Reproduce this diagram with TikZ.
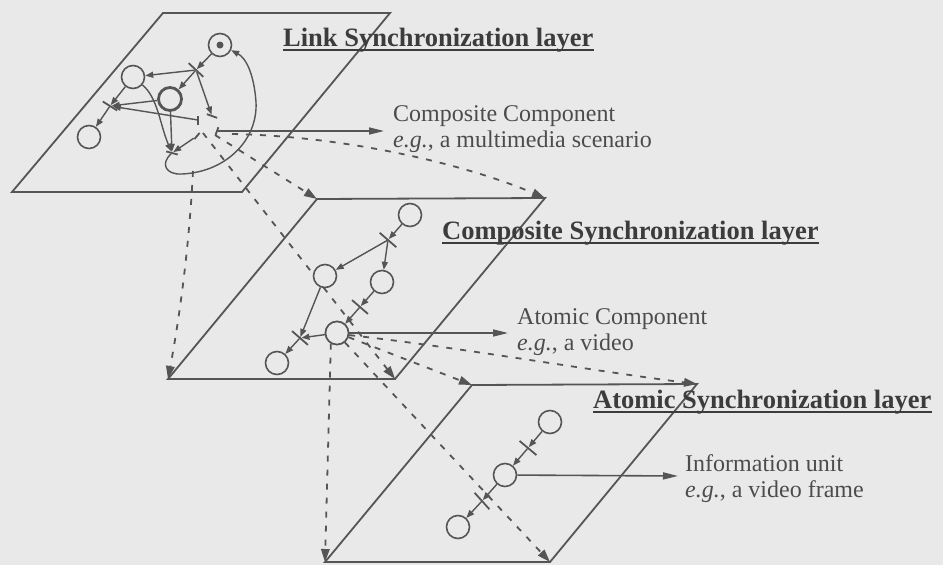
\documentclass[tikz,border=0pt]{standalone}
\usepackage{fontspec}
\setmainfont{Liberation Serif}
\usetikzlibrary{arrows.meta,calc}
\definecolor{bg}{HTML}{E9E9E9}
\definecolor{ink}{HTML}{555555}
\definecolor{txt}{HTML}{4C4C4C}
\definecolor{txtd}{HTML}{3C3C3C}
\begin{document}
\begin{tikzpicture}[x=1pt,y=-1pt,
  layer/.style={draw=ink, line width=1.8pt, line join=miter},
  place/.style={circle, draw=ink, fill=bg, line width=1.6pt, minimum size=23pt, inner sep=0pt},
  mainplace/.style={place, line width=2.8pt},
  sbar/.style={rectangle, fill=ink, inner sep=0pt, minimum height=1.8pt, minimum width=#1},
  sbar/.default=20pt,
  sync/.style={draw=ink, line width=1.4pt, -{Triangle[length=8pt,width=6pt]}},
  proj/.style={draw=ink, line width=1.8pt, dash pattern=on 6pt off 8pt, -{Triangle[length=13pt,width=8.5pt]}},
  annot/.style={draw=ink, line width=1.6pt, -{Triangle[length=15pt,width=7pt]}},
  uline/.style={draw=txtd, line width=1.8pt},
  title/.style={anchor=base west, inner sep=0pt, text=txtd, font=\fontsize{26.5}{30}\selectfont\bfseries},
  lbl/.style={anchor=base west, inner sep=0pt, text=txt, font=\fontsize{24}{28}\selectfont}]
\fill[bg] (0,0) rectangle (943,565);
\useasboundingbox (0,0) rectangle (943,565);

% layers
\coordinate (L1a) at (163,13); \coordinate (L1b) at (390,13);
\coordinate (L1c) at (242,192); \coordinate (L1d) at (12,192);
\coordinate (L2a) at (317,199); \coordinate (L2b) at (545,198);
\coordinate (L2c) at (395,379); \coordinate (L2d) at (168,379);
\coordinate (L3a) at (472,385); \coordinate (L3b) at (697,384);
\coordinate (L3c) at (550,562); \coordinate (L3d) at (325,562);
\draw[layer] (L1a) -- (L1b) -- (L1c) -- (L1d) -- cycle;
\draw[layer] (L2a) -- (L2b) -- (L2c) -- (L2d) -- cycle;
\draw[layer] (L3a) -- (L3b) -- (L3c) -- (L3d) -- cycle;

% titles and labels
\node[title] (tLink) at (283,46) {Link Synchronization layer};
\draw[uline] ($(tLink.base west)+(0,4)$) -- ($(tLink.base east)+(0,4)$);
\node[title] (tComp) at (442,239) {Composite Synchronization layer};
\draw[uline] ($(tComp.base west)+(0,4)$) -- ($(tComp.base east)+(0,4)$);
\node[title] (tAtom) at (593,408) {Atomic Synchronization layer};
\draw[uline] ($(tAtom.base west)+(0,4)$) -- ($(tAtom.base east)+(0,4)$);

\node[lbl] (cc1) at (393,121) {Composite Component};
\node[lbl] (cc2) at (393,147) {\textit{e.g.}, a multimedia scenario};
\node[lbl] (ac1) at (517,324) {Atomic Component};
\node[lbl] (ac2) at (517,350) {\textit{e.g.}, a video};
\node[lbl] (iu1) at (685,471) {Information unit};
\node[lbl] (iu2) at (685,497) {\textit{e.g.}, a video frame};

% projection lines, link -> composite layer
\coordinate (d1s) at (193,171);
\coordinate (d2s) at (215,135);
\coordinate (d3s) at (203,133);
\coordinate (d4s) at (232,134);
\draw[proj] (d1s) .. controls (189,250) and (179,320) .. (L2d);
\draw[proj] (d2s) -- (L2a);
\draw[proj] (d3s) -- (L2c);
\draw[proj] (d4s) .. controls (340,136) and (460,162) .. (L2b);

% layer 1 graph
\node[place] (Tn) at (220,45) {};
\node[circle, fill=ink, minimum size=7pt, inner sep=0pt] (TnDot) at (Tn) {};
\node[place] (A) at (133,77) {};
\node[mainplace] (B) at (170,99) {};
\node[place] (C) at (89,137) {};
\node[sbar=20pt, rotate=-43] (T1) at (196,70) {};
\node[sbar=17pt, rotate=-32] (J1) at (110,106) {};
\node[sbar=12pt, rotate=-15] (J2) at (172,153) {};
\node[sbar=11pt, rotate=-20] (T3) at (212,116) {};
\node[sbar=9pt, rotate=90] (K1) at (198,120) {};
\node[sbar=8pt, rotate=50] (K2) at (197,136) {};
\node[sbar=8pt, rotate=70] (K3) at (217,131) {};
\draw[sync] (Tn) -- (T1);
\draw[sync] (T1) -- (A);
\draw[sync] (T1) -- (B);
\draw[sync] (T1) -- (T3);
\draw[sync] (A) -- (J1);
\draw[sync] (B) -- (J1);
\draw[sync] (K1) -- (J1);
\draw[sync] (J1) -- (C);
\draw[sync] (A.-40) .. controls (158,98) and (160,125) .. (J2);
\draw[sync] (B) -- (J2);
\draw[sync] (K2) -- (J2);
\draw[sync] (J2) .. controls (160,164) and (166,175) .. (182,174)
  .. controls (226,172) and (258,140) .. (256,102)
  .. controls (254,74) and (246,58) .. (Tn.-25);
\coordinate (ccTip) at (384,131);
\draw[annot] (K3) -- (ccTip);

% projection lines, composite -> atomic layer
\node[place] (N) at (337,333) {};
\draw[proj] (N.-120) -- (L3d);
\draw[proj] (N.-20) -- (L3a);
\draw[proj] (N.-50) -- (L3c);
\draw[proj] (N.-10) .. controls (450,346) and (600,372) .. (L3b);

% layer 2 graph
\node[place] (P) at (410,215) {};
\node[place] (Q) at (325,276) {};
\node[place] (R) at (382,282) {};
\node[place] (S) at (277,363) {};
\node[place] at (N) {};
\node[sbar=22pt, rotate=-41] (X1) at (388,240) {};
\node[sbar=21pt, rotate=-41] (X2) at (360,307) {};
\node[sbar=21pt, rotate=-41] (X3) at (300,338) {};
\draw[sync] (P) -- (X1);
\draw[sync] (X1) -- (Q);
\draw[sync] (X1) -- (R);
\draw[sync] (R) -- (X2);
\draw[sync] (X2) -- (N);
\draw[sync] (Q) -- (X3);
\draw[sync] (N) -- (X3);
\draw[sync] (X3) -- (S);
\coordinate (acTip) at (508,333);
\draw[annot] (N) -- (acTip);

% layer 3 graph
\node[place] (T) at (550,422) {};
\node[place] (U) at (505,475) {};
\node[place] (V) at (458,527) {};
\node[sbar=22pt, rotate=-40] (Y1) at (528,448) {};
\node[sbar=22pt, rotate=-48] (Y2) at (482,501) {};
\draw[sync] (T) -- (Y1);
\draw[sync] (Y1) -- (U);
\draw[sync] (U) -- (Y2);
\draw[sync] (Y2) -- (V);
\coordinate (iuTip) at (678,476);
\draw[annot] (U) -- (iuTip);
\end{tikzpicture}
\end{document}
